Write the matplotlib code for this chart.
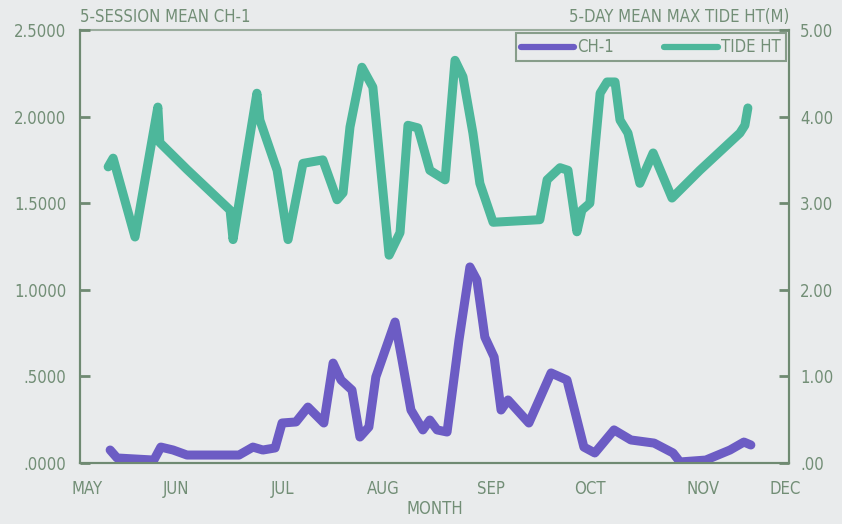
import matplotlib
matplotlib.use("Agg")
import matplotlib.pyplot as plt

# x = days since May 1
ch1_day = [9.1, 11.2, 22.3, 24.4, 28.1, 32.3, 48.0, 52.2, 55.2, 58.9, 61.0, 65.2, 68.8, 73.6,
           76.4, 78.8, 82.1, 84.5, 87.2, 89.3, 95.1, 97.2, 99.9, 103.5, 105.6, 107.8, 110.8,
           114.4, 117.7, 119.8, 122.2, 125.0, 127.1, 129.2, 135.5, 142.2, 147.0, 152.1, 155.4,
           161.2, 166.3, 173.3, 179.0, 181.1, 188.9, 196.2, 200.4, 202.5]
ch1_val = [.075, .029, .017, .092, .075, .046, .046, .092, .075, .087, .231, .237, .323, .231,
           .577, .479, .421, .150, .208, .497, .814, .595, .306, .191, .248, .191, .179,
           .710, 1.132, 1.057, .727, .612, .306, .364, .231, .520, .479, .092, .058,
           .191, .133, .115, .058, .006, .017, .075, .121, .104]

tide_day = [8.5, 10.0, 16.6, 23.5, 24.1, 32.3, 45.3, 46.2, 53.4, 54.3, 59.5, 62.8, 67.3, 73.3,
            77.6, 79.4, 81.5, 85.1, 88.4, 93.3, 96.6, 99.0, 102.0, 105.6, 110.2, 113.2, 115.6,
            118.6, 120.7, 124.7, 138.8, 141.0, 144.9, 147.3, 150.0, 151.5, 153.9, 157.0, 159.1,
            161.5, 163.0, 165.4, 169.0, 173.0, 178.7, 187.1, 199.2, 200.7, 201.6]
tide_val = [3.42, 3.52, 2.61, 4.11, 3.70, 3.39, 2.92, 2.58, 4.27, 3.96, 3.38, 2.58, 3.46, 3.50,
            3.04, 3.12, 3.88, 4.57, 4.34, 2.40, 2.66, 3.90, 3.87, 3.38, 3.27, 4.65, 4.46,
            3.81, 3.23, 2.78, 2.81, 3.27, 3.41, 3.38, 2.67, 2.92, 3.00, 4.27, 4.40,
            4.40, 3.96, 3.81, 3.23, 3.58, 3.06, 3.38, 3.81, 3.90, 4.10]

month_pos = [2, 29, 61, 91.5, 124, 154, 188, 213]
month_lab = ['MAY', 'JUN', 'JUL', 'AUG', 'SEP', 'OCT', 'NOV', 'DEC']
left_ticks = [0, .5, 1.0, 1.5, 2.0, 2.5]
left_lab = ['.0000', '.5000', '1.0000', '1.5000', '2.0000', '2.5000']
right_ticks = [0, 1, 2, 3, 4, 5]
right_lab = ['.00', '1.00', '2.00', '3.00', '4.00', '5.00']

bg = '#e9ebec'
frame = '#6f8a72'
txt = '#728e76'
purple = '#6c5cc4'
green = '#4db79b'

plt.rcParams['font.family'] = ['DejaVu Sans']
plt.rcParams['font.stretch'] = 'condensed'
fs = 12

fig = plt.figure(figsize=(8.42, 5.24), dpi=100, facecolor=bg)
ax1 = fig.add_axes([0.095, 0.1164, 0.842, 0.8263], facecolor=bg)
ax2 = ax1.twinx()

l1, = ax1.plot(ch1_day, ch1_val, color=purple, lw=6.5, solid_joinstyle='round', solid_capstyle='round', label='CH-1')
l2, = ax2.plot(tide_day, tide_val, color=green, lw=6.5, solid_joinstyle='round', solid_capstyle='round', label='TIDE HT')

ax1.set_xlim(0, 214)
ax1.set_ylim(0, 2.5)
ax2.set_ylim(0, 5)

ax1.set_xticks(month_pos)
ax1.set_xticklabels(month_lab)
ax1.set_yticks(left_ticks)
ax1.set_yticklabels(left_lab)
ax2.set_yticks(right_ticks)
ax2.set_yticklabels(right_lab)

ax1.tick_params(axis='x', length=0, pad=12, colors=txt, labelsize=fs)
ax1.tick_params(axis='y', direction='in', length=7, width=2, color=frame, pad=10, labelcolor=txt, labelsize=fs)
ax2.tick_params(axis='y', direction='in', length=7, width=2, color=frame, pad=8, labelcolor=txt, labelsize=fs)

for ax in (ax1, ax2):
    for s in ax.spines.values():
        s.set_color(frame)
        s.set_linewidth(1.5)
    ax.spines['top'].set_alpha(0.4)

ax1.set_xlabel('MONTH', color=txt, fontsize=fs, labelpad=2)
fig.text(0.095, 0.950, '5-SESSION MEAN CH-1', color=txt, fontsize=fs, ha='left', va='bottom')
fig.text(0.937, 0.950, '5-DAY MEAN MAX TIDE HT(M)', color=txt, fontsize=fs, ha='right', va='bottom')

leg = ax2.legend(handles=[l1, l2], loc='upper right', ncol=2, fancybox=False,
                 frameon=True, fontsize=fs, borderpad=0.3, handlelength=3.2,
                 handletextpad=0.2, columnspacing=3.0, borderaxespad=0.2)
leg.get_frame().set_edgecolor(frame)
leg.get_frame().set_facecolor(bg)
leg.get_frame().set_linewidth(1.5)
for t in leg.get_texts():
    t.set_color(txt)
for h in leg.get_lines():
    h.set_linewidth(4.5)

fig.savefig('out.png', dpi=100, facecolor=bg)
